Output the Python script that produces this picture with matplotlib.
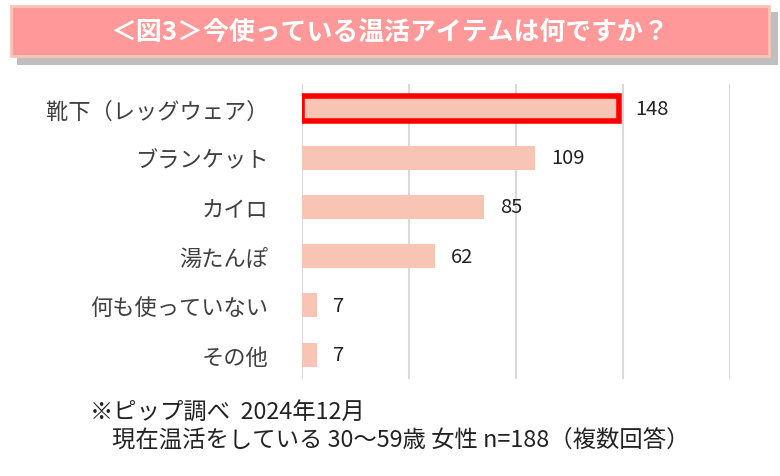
import matplotlib.pyplot as plt
from matplotlib.patches import Rectangle

plt.rcParams['font.family'] = ['Noto Sans CJK JP', 'DejaVu Sans']

title = "＜図3＞今使っている温活アイテムは何ですか？"
items = ["靴下（レッグウェア）", "ブランケット", "カイロ", "湯たんぽ", "何も使っていない", "その他"]
counts = [148, 109, 85, 62, 7, 7]
note1 = "※ピップ調べ  2024年12月"
note2 = "現在温活をしている 30〜59歳 女性 n=188（複数回答）"

fig = plt.figure(figsize=(7.8, 4.77), dpi=100)

# title banner with shadow
fig.patches.append(Rectangle((0.022, 0.862), 0.975, 0.11, transform=fig.transFigure,
                             facecolor="#BFBFBF", edgecolor="none", zorder=0))
fig.patches.append(Rectangle((0.014, 0.88), 0.972, 0.105, transform=fig.transFigure,
                             facecolor="#FF9999", edgecolor="#F8C5B5", linewidth=2, zorder=1))
fig.text(0.5, 0.933, title, color="white", fontsize=18.6, fontweight="bold",
         ha="center", va="center", zorder=2)

ax = fig.add_axes([0.387, 0.203, 0.549, 0.619])
y = list(range(len(items)))
bars = ax.barh(y, counts, height=0.49, color="#F8C5B5", zorder=2)
bars[0].set_edgecolor("#FF0000")
bars[0].set_linewidth(4)

for yi, v in zip(y, counts):
    ax.text(v + 7.5, yi, str(v), va="center", ha="left", fontsize=14.5, color="#222222")

ax.set_xlim(0, 200)
ax.set_ylim(len(items) - 0.5, -0.5)
ax.set_xticks([0, 50, 100, 150, 200])
ax.xaxis.grid(True, color="#D9D9D9", linewidth=1.5, zorder=0)
ax.set_yticks(y)
ax.set_yticklabels(items, fontsize=16, color="#404040")
ax.tick_params(axis="y", length=0, pad=24)
ax.tick_params(axis="x", length=0, labelbottom=False)
for s in ax.spines.values():
    s.set_visible(False)

fig.text(0.115, 0.136, note1, fontsize=16.8, color="#222222", va="center")
fig.text(0.144, 0.075, note2, fontsize=16.8, color="#222222", va="center")

fig.savefig("out.png", dpi=100)
